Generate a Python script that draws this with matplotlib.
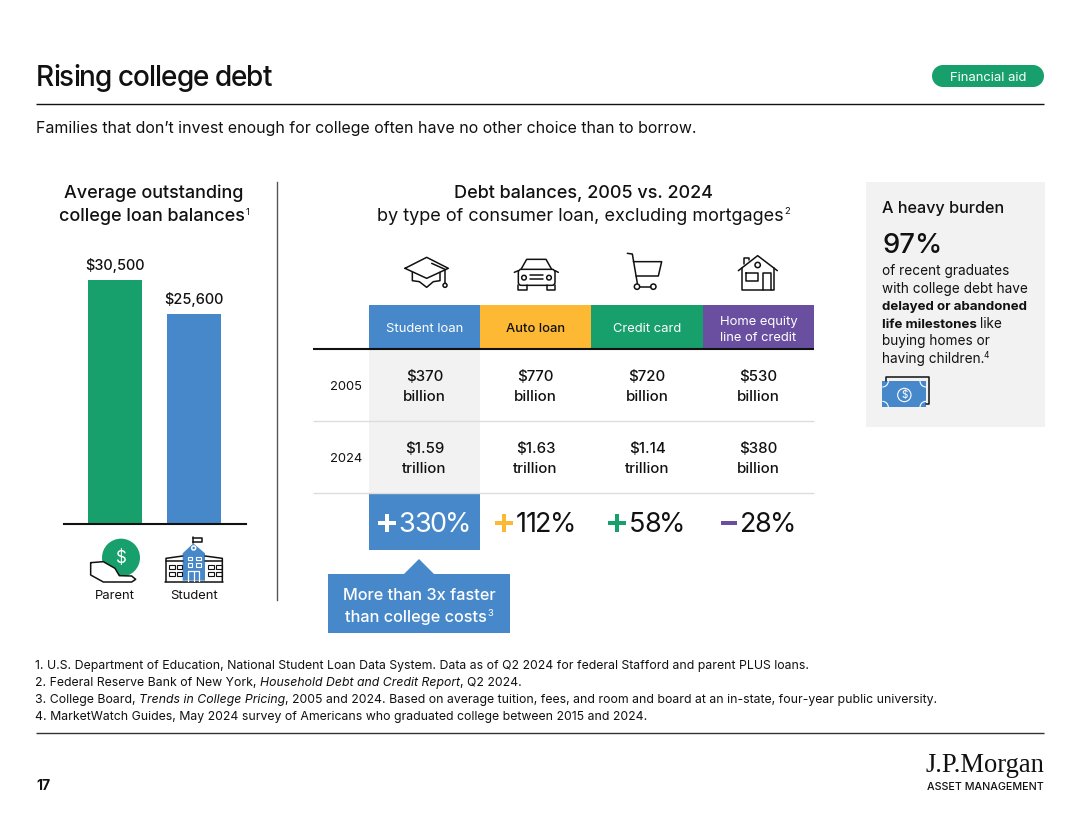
import matplotlib
matplotlib.use("Agg")
import matplotlib.pyplot as plt
from matplotlib.patches import Arc, Circle, FancyBboxPatch, Polygon, Rectangle

WIDTH, HEIGHT = 1080, 826
GREEN = "#17A06C"
BLUE = "#4688C9"
YELLOW = "#FDB933"
PURPLE = "#6A4FA0"
INK = "#111111"
LIGHT = "#F2F2F2"
FONT = "Inter"

# chart values
borrowers = ["Parent", "Student"]
balance_labels = ["$30,500", "$25,600"]
# bar heights, the student bar is drawn a bit taller than its label
balance_heights = [30500, 26250]

loan_types = ["Student loan", "Auto loan", "Credit card", "Home equity\nline of credit"]
header_colors = [BLUE, YELLOW, GREEN, PURPLE]
header_text_colors = ["white", INK, "white", "white"]
years = ["2005", "2024"]
debt_2005 = ["$370\nbillion", "$770\nbillion", "$720\nbillion", "$530\nbillion"]
debt_2024 = ["$1.59\ntrillion", "$1.63\ntrillion", "$1.14\ntrillion", "$380\nbillion"]
change_signs = ["+", "+", "+", "-"]
change_values = ["330%", "112%", "58%", "28%"]

footnotes = [
    [("1. U.S. Department of Education, National Student Loan Data System. Data as of Q2 2024 for federal Stafford and parent PLUS loans.", {})],
    [("2. Federal Reserve Bank of New York, ", {}), ("Household Debt and Credit Report", {"style": "italic"}), (", Q2 2024.", {})],
    [("3. College Board, ", {}), ("Trends in College Pricing", {"style": "italic"}), (", 2005 and 2024. Based on average tuition, fees, and room and board at an in-state, four-year public university.", {})],
    [("4. MarketWatch Guides, May 2024 survey of Americans who graduated college between 2015 and 2024.", {})],
]

plt.rcParams["font.family"] = [FONT, "DejaVu Sans"]
fig = plt.figure(figsize=(WIDTH / 100, HEIGHT / 100), dpi=100)
canvas = fig.add_axes([0, 0, 1, 1])
canvas.set_xlim(0, WIDTH)
canvas.set_ylim(HEIGHT, 0)
canvas.axis("off")


def txt(x, y, s, px=13.0, color=INK, ha="left", weight="normal", **kw):
    return canvas.text(x, y, s, fontsize=px / 1.389, color=color, ha=ha, va="baseline",
                       weight=weight, **kw)


def text_width(s, px, **kw):
    # the bar keeps trailing spaces in the measure
    renderer = fig.canvas.get_renderer()
    a = canvas.text(0, 0, s + "|", fontsize=px / 1.389, **kw)
    b = canvas.text(0, 0, "|", fontsize=px / 1.389, **kw)
    w = a.get_window_extent(renderer).width - b.get_window_extent(renderer).width
    a.remove()
    b.remove()
    return w


def runs(x, y, parts, px=13.0, color=INK):
    for s, kw in parts:
        kw = dict(kw)
        c = kw.pop("color", color)
        canvas.text(x, y, s, fontsize=px / 1.389, color=c, va="baseline", **kw)
        x += text_width(s, px, **kw)


def tracked_width(s, px, track, **kw):
    return text_width(s, px, **kw) + track * (len(s) - 1)


def tracked(x, y, s, px, track, color=INK, **kw):
    # the reference face sets large text tighter than Inter does
    for i, ch in enumerate(s):
        canvas.text(x + text_width(s[:i], px, **kw) + track * i, y, ch, fontsize=px / 1.389,
                    color=color, va="baseline", **kw)


def sup_text(cx, y, s, mark, px, color=INK, sup_px=9.5, weight="normal"):
    # centered line with a thin raised footnote mark
    w = text_width(s, px, weight=weight)
    x0 = cx - (w + text_width(mark, sup_px)) / 2
    txt(x0, y, s, px=px, color=color, weight=weight)
    txt(x0 + w + 0.5, y - px * 0.36, mark, px=sup_px, color=color)


def hline(y, x0, x1, color=INK, lw=1.0):
    canvas.plot([x0, x1], [y, y], color=color, lw=lw, solid_capstyle="butt")


def rect(x0, y0, x1, y1, color):
    canvas.add_patch(Rectangle((x0, y0), x1 - x0, y1 - y0, facecolor=color, edgecolor="none"))


def icon_line(origin, pts, color=INK, lw=1.1, close=False):
    # points are in 3x zoom coordinates
    xs = [origin[0] + p[0] / 3 for p in pts]
    ys = [origin[1] + p[1] / 3 for p in pts]
    if close:
        xs.append(xs[0])
        ys.append(ys[0])
    canvas.plot(xs, ys, color=color, lw=lw, solid_joinstyle="round", solid_capstyle="round")


def icon_circle(origin, cx, cy, r, face="none", edge=INK, lw=1.1):
    canvas.add_patch(Circle((origin[0] + cx / 3, origin[1] + cy / 3), r / 3,
                            facecolor=face, edgecolor=edge, lw=lw))


def icon_fill(origin, pts, color):
    canvas.add_patch(Polygon([(origin[0] + p[0] / 3, origin[1] + p[1] / 3) for p in pts],
                             facecolor=color, edgecolor="none"))


# page header
tracked(36, 86, "Rising college debt", 28, -1.0, weight="medium")
hline(103.5, 36, 1044)
rect(943, 65, 1033, 87, GREEN)
canvas.add_patch(Circle((943, 76), 11, facecolor=GREEN, edgecolor="none"))
canvas.add_patch(Circle((1033, 76), 11, facecolor=GREEN, edgecolor="none"))
txt(988, 81, "Financial aid", px=13, color="white", ha="center")
txt(36, 133, "Families that don\u2019t invest enough for college often have no other choice than to borrow.", px=15.95)

# left panel
txt(154, 198, "Average outstanding", px=18, ha="center", weight="medium")
sup_text(154, 221, "college loan balances", "1", 18, weight="medium")
canvas.plot([277, 277], [182, 600], color="#555555", lw=1)

bar_ax = fig.add_axes([64 / WIDTH, 1 - 524 / HEIGHT, 182 / WIDTH, 244 / HEIGHT])
bar_ax.patch.set_alpha(0)
bars = bar_ax.bar(range(len(borrowers)), balance_heights, width=0.69, color=[GREEN, BLUE])
bar_ax.bar_label(bars, labels=balance_labels, padding=5, fontsize=14.5 / 1.389, color=INK,
                 weight="medium")
bar_ax.set_xlim(-0.645, 1.658)
bar_ax.set_ylim(0, 30500)
bar_ax.set_xticks(range(len(borrowers)), borrowers)
bar_ax.tick_params(axis="x", length=0, pad=47.5, labelsize=13 / 1.389, labelcolor=INK)
bar_ax.set_yticks([])
for side in ["top", "left", "right"]:
    bar_ax.spines[side].set_visible(False)
bar_ax.spines["bottom"].set_linewidth(1.5)
bar_ax.spines["bottom"].set_color(INK)

# parent and student icons
z1 = (60, 170)
icon_circle(z1, 183, 1163, 57, face=GREEN, edge="none")
txt(z1[0] + 183 / 3, z1[1] + 1180 / 3, "$", px=17, color="white", ha="center")
icon_fill(z1, [(92, 1178), (130, 1175), (165, 1195), (178, 1217), (225, 1220), (225, 1235), (130, 1235), (92, 1215)], "white")
icon_line(z1, [(92, 1178), (130, 1175), (165, 1195), (178, 1217), (215, 1218), (227, 1228), (215, 1236), (130, 1236), (92, 1215)], close=True)
icon_line(z1, [(318, 1235), (318, 1165), (368, 1158)])
icon_line(z1, [(487, 1235), (487, 1165), (435, 1158)])
icon_line(z1, [(318, 1172), (368, 1172)])
icon_line(z1, [(435, 1172), (487, 1172)])
icon_line(z1, [(316, 1236), (488, 1236)])
icon_fill(z1, [(368, 1150), (400, 1120), (435, 1150), (435, 1232), (368, 1232)], BLUE)
icon_line(z1, [(400, 1120), (400, 1102)])
icon_line(z1, [(400, 1103), (427, 1103), (427, 1115), (400, 1115)])
icon_circle(z1, 401, 1134, 6, edge="white")
for wx in [328, 350, 445, 468]:
    for wy in [1185, 1205]:
        canvas.add_patch(Rectangle((z1[0] + wx / 3, z1[1] + wy / 3), 5.5, 4, facecolor="none", edgecolor=INK, lw=0.8))
for wx in [383, 408]:
    for wy in [1160, 1180]:
        canvas.add_patch(Rectangle((z1[0] + wx / 3, z1[1] + wy / 3), 4.5, 3.5, facecolor="none", edgecolor="white", lw=0.8))
icon_line(z1, [(385, 1232), (385, 1202), (418, 1202), (418, 1232)], color="white", lw=0.9)
icon_line(z1, [(401, 1202), (401, 1232)], color="white", lw=0.9)

# center table
txt(583, 198, "Debt balances, 2005 vs. 2024", px=18, ha="center", weight="medium")
sup_text(583, 221, "by type of consumer loan, excluding mortgages", "2", 18.1)

col_edges = [369, 480, 591, 703, 814]
col_centers = [(a + b) / 2 for a, b in zip(col_edges, col_edges[1:])]
rect(col_edges[0], 349, col_edges[1], 493, LIGHT)
for i, name in enumerate(loan_types):
    rect(col_edges[i], 305, col_edges[i + 1], 349, header_colors[i])
    lines = name.split("\n")
    base = [332] if len(lines) == 1 else [325, 341]
    for line, y in zip(lines, base):
        txt(col_centers[i], y, line, px=13, color=header_text_colors[i], ha="center",
            weight="medium" if i == 1 else "normal")
hline(349, 313, 814, lw=1.5)
hline(420.5, 313, 814, color="#DDDDDD", lw=1)
hline(492.5, 313, 814, color="#DDDDDD", lw=1)

for year, row, y0 in zip(years, [debt_2005, debt_2024], [381, 453]):
    txt(346, y0 + 9, year, px=13, ha="center")
    for cx, cell in zip(col_centers, row):
        top, bottom = cell.split("\n")
        txt(cx, y0, top, px=15, ha="center", weight="medium")
        txt(cx, y0 + 20, bottom, px=15, ha="center", weight="medium")

rect(col_edges[0], 493, col_edges[1], 550, BLUE)
sign_colors = ["white", YELLOW, GREEN, PURPLE]
value_colors = ["white", INK, INK, INK]
for cx, sign, value, sc, vc in zip(col_centers, change_signs, change_values, sign_colors, value_colors):
    arm = 18 if sign == "+" else 16
    w = arm + 3 + tracked_width(value, 27, -1.4)
    x0 = cx - w / 2
    rect(x0, 521, x0 + arm, 525, sc)
    if sign == "+":
        rect(x0 + arm / 2 - 2, 514, x0 + arm / 2 + 2, 532, sc)
    tracked(x0 + arm + 3, 532, value, 27, -1.4, color=vc)

rect(328, 574, 510, 633, BLUE)
canvas.add_patch(Polygon([(404, 574), (419, 559), (434, 574)], facecolor=BLUE, edgecolor="none"))
txt(419, 600, "More than 3x faster", px=16.3, color="white", ha="center", weight="medium")
sup_text(419, 622, "than college costs", "3", 16.3, color="white", weight="medium")

# loan icons
z2 = (380, 240)
icon_line(z2, [(75, 85), (140, 52), (205, 85), (140, 115)], close=True)
icon_line(z2, [(97, 97), (97, 122), (118, 125), (140, 142), (160, 125), (180, 122), (180, 97)])
icon_line(z2, [(155, 70), (195, 88), (195, 130)])
icon_circle(z2, 195, 136, 6)
icon_line(z2, [(423, 88), (440, 58), (498, 58), (515, 88)])
canvas.add_patch(FancyBboxPatch((380 + 415 / 3, 240 + 88 / 3), 110 / 3, 48 / 3,
                                boxstyle="round,pad=0,rounding_size=3", facecolor="none", edgecolor=INK, lw=1.1))
icon_line(z2, [(403, 97), (415, 92)])
icon_line(z2, [(535, 97), (525, 92)])
icon_line(z2, [(415, 135), (415, 150), (440, 150), (440, 135)])
icon_line(z2, [(500, 135), (500, 150), (525, 150), (525, 135)])
icon_circle(z2, 432, 113, 7)
icon_circle(z2, 507, 113, 7)
icon_line(z2, [(450, 106), (490, 106)])
icon_line(z2, [(450, 118), (490, 118)])
icon_line(z2, [(742, 40), (757, 42), (772, 130)])
icon_line(z2, [(760, 65), (845, 65), (835, 108), (768, 108)])
icon_circle(z2, 771, 140, 8)
icon_circle(z2, 820, 140, 8)
icon_line(z2, [(779, 140), (812, 140)])
icon_line(z2, [(1075, 92), (1133, 47), (1192, 92)])
icon_line(z2, [(1085, 85), (1085, 150), (1183, 150), (1183, 85)])
icon_line(z2, [(1092, 72), (1092, 53), (1107, 53), (1107, 60)])
icon_circle(z2, 1133, 75, 8)
icon_line(z2, [(1097, 100), (1133, 100), (1133, 122), (1097, 122)], close=True)
icon_line(z2, [(1150, 150), (1150, 100), (1172, 100), (1172, 150)])

# side panel
rect(866, 182, 1045, 427, LIGHT)
txt(882, 213, "A heavy burden", px=16.2, weight="medium")
txt(882, 253, "97%", px=27.5, weight="medium")
txt(882, 274.5, "of recent graduates", px=13.6)
txt(882, 292.5, "with college debt have", px=13.6)
txt(882, 310, "delayed or abandoned", px=13.3, weight="bold")
txt(882, 328, "life milestones", px=13.3, weight="bold")
txt(882 + text_width("life milestones ", 13.3, weight="bold"), 328, "like", px=13.6)
txt(882, 345.5, "buying homes or", px=13.6)
txt(882, 363, "having children.", px=13.6)
txt(882 + text_width("having children.", 13.6) - 0.5, 358, "4", px=8.5)
z3 = (860, 175)
icon_line(z3, [(77, 618), (77, 607), (208, 607), (208, 687), (198, 687)])
icon_fill(z3, [(67, 618), (198, 618), (198, 697), (67, 697)], BLUE)
icon_circle(z3, 133, 660, 20, edge="white", lw=0.8)
txt(z3[0] + 133 / 3, z3[1] + 669 / 3, "$", px=10, color="white", ha="center")
for cx, cy, start in [(67, 618, 0), (198, 618, 90), (198, 697, 180), (67, 697, 270)]:
    canvas.add_patch(Arc((z3[0] + cx / 3, z3[1] + cy / 3), 12, 12, color="white", lw=0.8,
                         theta1=start, theta2=start + 90))

# footnotes and footer
for parts, y in zip(footnotes, [669.5, 686, 703, 720]):
    runs(35, y, parts, px=12.3)
hline(733, 36, 1044, color="#333333")
txt(36, 790, "17", px=14, weight="bold")
canvas.text(1044, 772, "J.P.Morgan", fontsize=26.5 / 1.389, family="Liberation Serif", ha="right", va="baseline", color=INK)
txt(1044, 790, "ASSET MANAGEMENT", px=10.7, ha="right", weight="medium")

fig.savefig("out.png", dpi=100)
